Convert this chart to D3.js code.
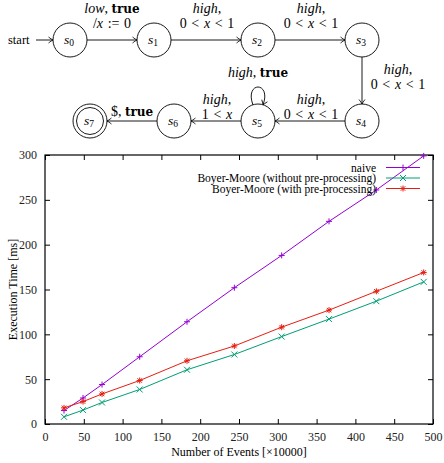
<!DOCTYPE html>
<html>
<head>
<meta charset="utf-8">
<script src="https://cdn.jsdelivr.net/npm/d3@7"></script>
<style>
  body { margin: 0; background: #fff; }
  svg { display: block; }
  text { font-family: "Liberation Serif", "DejaVu Serif", serif; }
</style>
</head>
<body>
<div id="chart"></div>
<script>
/**
 * DATA
 * */
const events = [24.5, 49, 73.5, 122, 183, 244, 305, 366, 427, 488];
const naive = [15, 29, 44, 75, 114, 152, 188, 226, 261, 299];
const bmNoPre = [8, 15.5, 24, 38.5, 60.5, 77.5, 97.5, 117, 137, 158.5];
const bmPre = [18, 25, 33.5, 48.5, 70.5, 87, 108, 127, 148, 169];
const seriesNames = ["naive", "Boyer-Moore (without pre-processing)", "Boyer-Moore (with pre-processing)"];
const xTicks = [0, 50, 100, 150, 200, 250, 300, 350, 400, 450, 500];
const yTicks = [0, 50, 100, 150, 200, 250, 300];

// automaton: states and labelled transitions (\u2004 = math relation spacing)
const sp = "\u2004";
const guard01 = [["0" + sp + "<" + sp], ["x", "i"], [sp + "<" + sp + "1"]];
const states = ["s0", "s1", "s2", "s3", "s4", "s5", "s6", "s7"];
const edges = [
  { from: "s0", to: "s1", label: [[["low", "i"], [", "], ["true", "b"]], [["/"], ["x", "i"], [sp + ":=" + sp + "0"]]] },
  { from: "s1", to: "s2", label: [[["high", "i"], [","]], guard01] },
  { from: "s2", to: "s3", label: [[["high", "i"], [","]], guard01] },
  { from: "s3", to: "s4", label: [[["high", "i"], [","]], guard01] },
  { from: "s4", to: "s5", label: [[["high", "i"], [","]], guard01] },
  { from: "s5", to: "s5", label: [[["high", "i"], [", "], ["true", "b"]]] },
  { from: "s5", to: "s6", label: [[["high", "i"], [","]], [["1" + sp + "<" + sp], ["x", "i"]]] },
  { from: "s6", to: "s7", label: [[["$, "], ["true", "b"]]] }
];

/**
 * LAYOUT
 * */
const width = 444, height = 463;
const margin = { top: 155, right: 11, bottom: 39, left: 45 };
const nodePos = {
  s0: [70, 40], s1: [154, 40], s2: [258, 40], s3: [362, 40],
  s4: [362, 121], s5: [258, 121], s6: [174, 121], s7: [90, 121]
};
const labelPos = {
  "s0-s1": [112, 13], "s1-s2": [207, 13], "s2-s3": [311, 13],
  "s3-s4": [398, 74], "s4-s5": [311, 104], "s5-s5": [258, 77],
  "s5-s6": [217, 104], "s6-s7": [132, 116]
};
const r = 17;
const colors = ["#9400d3", "#009e73", "#e51e10"];

const svg = d3.select("#chart").append("svg")
  .attr("width", width).attr("height", height);

svg.append("defs").append("marker")
  .attr("id", "arr")
  .attr("viewBox", "-6 -4 7 8")
  .attr("refX", 0).attr("refY", 0)
  .attr("markerWidth", 7).attr("markerHeight", 8)
  .attr("markerUnits", "userSpaceOnUse")
  .attr("orient", "auto")
  .append("path")
  .attr("d", "M-4.5,-3 Q-1.5,-0.6 0,0 Q-1.5,0.6 -4.5,3")
  .attr("fill", "none").attr("stroke", "#000").attr("stroke-width", 0.8);

const auto = svg.append("g").attr("class", "automaton");

function richText(g, lines, x, y) {
  const t = g.append("text").attr("x", x).attr("y", y)
    .attr("text-anchor", "middle").attr("font-size", 14);
  lines.forEach((line, i) => {
    line.forEach((seg, j) => {
      const ts = t.append("tspan").text(seg[0]);
      if (j === 0) ts.attr("x", x).attr("dy", i === 0 ? 0 : 14.5);
      if (seg[1] === "i") ts.attr("font-style", "italic");
      if (seg[1] === "b") ts.attr("font-weight", "bold").attr("font-family", "DejaVu Serif").attr("font-size", 12);
    });
  });
}

// start arrow
auto.append("text").attr("x", 8).attr("y", 44).attr("font-size", 12.5).text("start");
auto.append("line")
  .attr("x1", 36).attr("y1", 40).attr("x2", nodePos.s0[0] - r).attr("y2", 40)
  .attr("stroke", "#000").attr("stroke-width", 0.9).attr("marker-end", "url(#arr)");

edges.forEach(e => {
  const [x1, y1] = nodePos[e.from], [x2, y2] = nodePos[e.to];
  if (e.from === e.to) {
    auto.append("path")
      .attr("d", `M${x1 - 5},${y1 - r + 1} C${x1 - 14},${y1 - 40} ${x1 + 14},${y1 - 40} ${x1 + 5},${y1 - r + 1}`)
      .attr("fill", "none").attr("stroke", "#000").attr("stroke-width", 0.9)
      .attr("marker-end", "url(#arr)");
  } else {
    const dx = x2 - x1, dy = y2 - y1, len = Math.hypot(dx, dy);
    auto.append("line")
      .attr("x1", x1 + dx / len * r).attr("y1", y1 + dy / len * r)
      .attr("x2", x2 - dx / len * r).attr("y2", y2 - dy / len * r)
      .attr("stroke", "#000").attr("stroke-width", 0.9)
      .attr("marker-end", "url(#arr)");
  }
  const lp = labelPos[`${e.from}-${e.to}`];
  richText(auto, e.label, lp[0], lp[1]);
});

states.forEach(s => {
  const [x, y] = nodePos[s];
  auto.append("circle").attr("cx", x).attr("cy", y).attr("r", r)
    .attr("fill", "#fff").attr("stroke", "#000").attr("stroke-width", 0.9);
  if (s === "s7") {
    auto.append("circle").attr("cx", x).attr("cy", y).attr("r", r - 3.5)
      .attr("fill", "none").attr("stroke", "#000").attr("stroke-width", 0.9);
  }
  const t = auto.append("text").attr("x", x - 1).attr("y", y + 4)
    .attr("text-anchor", "middle").attr("font-size", 13.5);
  t.append("tspan").attr("font-style", "italic").text("s");
  t.append("tspan").attr("font-size", 9.5).attr("dy", 2).text(s.slice(1));
});

/**
 * CHART
 * */
const xScale = d3.scaleLinear().domain([0, 500]).range([margin.left, width - margin.right]);
const yScale = d3.scaleLinear().domain([0, 300]).range([height - margin.bottom, margin.top]);

const plot = svg.append("g").attr("class", "plot");

const xAxis = d3.axisBottom(xScale).tickValues(xTicks).tickSizeInner(-5).tickSizeOuter(0).tickPadding(8);
const yAxis = d3.axisLeft(yScale).tickValues(yTicks).tickSizeInner(-5).tickSizeOuter(0).tickPadding(8);

plot.append("g")
  .attr("transform", `translate(0,${height - margin.bottom})`)
  .call(xAxis)
  .call(g => g.select(".domain").remove())
  .selectAll("text").attr("font-size", 12).attr("fill", "#222")
  .attr("font-family", "Liberation Serif");

plot.append("g")
  .attr("transform", `translate(${margin.left},0)`)
  .call(yAxis)
  .call(g => g.select(".domain").remove())
  .selectAll("text").attr("font-size", 12).attr("fill", "#222")
  .attr("font-family", "Liberation Serif");

plot.append("g")
  .attr("transform", `translate(0,${margin.top})`)
  .call(d3.axisTop(xScale).tickValues(xTicks).tickSizeInner(-5).tickSizeOuter(0).tickFormat(""))
  .call(g => g.select(".domain").remove());

plot.append("g")
  .attr("transform", `translate(${width - margin.right},0)`)
  .call(d3.axisRight(yScale).tickValues(yTicks).tickSizeInner(-5).tickSizeOuter(0).tickFormat(""))
  .call(g => g.select(".domain").remove());

plot.selectAll(".tick line").attr("stroke", "#000");

plot.append("rect")
  .attr("x", xScale(0)).attr("y", yScale(300))
  .attr("width", xScale(500) - xScale(0)).attr("height", yScale(0) - yScale(300))
  .attr("fill", "none").attr("stroke", "#000").attr("stroke-width", 1.2);

// axis titles
plot.append("text")
  .attr("transform", `translate(17,${(yScale(0) + yScale(300)) / 2}) rotate(-90)`)
  .attr("text-anchor", "middle").attr("font-size", 12).text("Execution Time [ms]");
plot.append("text")
  .attr("x", (xScale(0) + xScale(500)) / 2).attr("y", 456)
  .attr("text-anchor", "middle").attr("font-size", 12).text("Number of Events [×10000]");

// point symbols
const s = 3;
const symbols = [
  `M${-s},0H${s}M0,${-s}V${s}`,
  `M${-s},${-s}L${s},${s}M${-s},${s}L${s},${-s}`,
  `M${-s},0H${s}M0,${-s}V${s}M${-s * 0.75},${-s * 0.75}L${s * 0.75},${s * 0.75}M${-s * 0.75},${s * 0.75}L${s * 0.75},${-s * 0.75}`
];

const allSeries = [naive, bmNoPre, bmPre];
const lineFunc = d3.line().x((d, i) => xScale(events[i])).y(d => yScale(d));

allSeries.forEach((vals, k) => {
  plot.append("path")
    .datum(vals)
    .attr("d", lineFunc)
    .attr("fill", "none").attr("stroke", colors[k]).attr("stroke-width", 1);
  plot.selectAll(`path.pt${k}`)
    .data(vals)
    .join("path")
    .attr("class", `pt${k}`)
    .attr("transform", (d, i) => `translate(${xScale(events[i])},${yScale(d)})`)
    .attr("d", symbols[k])
    .attr("fill", "none").attr("stroke", colors[k]).attr("stroke-width", 1);
});

// legend
const legend = plot.append("g").attr("class", "legend");
seriesNames.forEach((name, k) => {
  const y = 167.5 + k * 10.5;
  legend.append("text").attr("x", 376).attr("y", y + 4)
    .attr("text-anchor", "end").attr("font-size", 11.5).text(name);
  legend.append("line").attr("x1", 386).attr("x2", 420).attr("y1", y).attr("y2", y)
    .attr("stroke", colors[k]).attr("stroke-width", 1);
  legend.append("path").attr("transform", `translate(403,${y})`).attr("d", symbols[k])
    .attr("fill", "none").attr("stroke", colors[k]).attr("stroke-width", 1);
});
</script>
</body>
</html>
